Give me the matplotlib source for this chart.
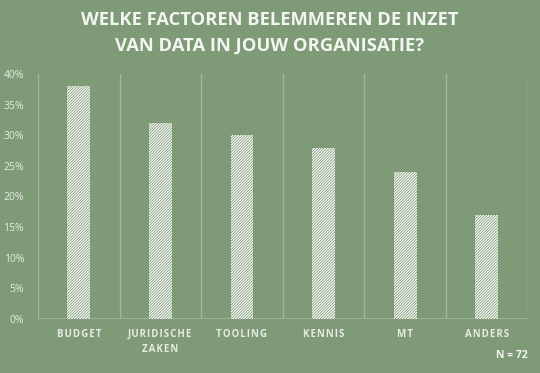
#!/usr/bin/env python
import matplotlib
matplotlib.use("Agg")
from matplotlib import pyplot as plt

# data
categories = ["BUDGET", "JURIDISCHE\nZAKEN", "TOOLING", "KENNIS", "MT", "ANDERS"]
shares = [38, 32, 30, 28, 24, 17]
yticks = [0, 5, 10, 15, 20, 25, 30, 35, 40]
title_lines = ["WELKE FACTOREN BELEMMEREN DE INZET", "VAN DATA IN JOUW ORGANISATIE?"]
note = "N = 72"

BG = "#7f9a77"
GRID = "#a2b69b"
TXT = "#f2f5f0"
LBL = "#e6ece3"


def spaced(s, sep="\u200a"):
    # fake letter spacing
    return "\n".join(sep.join(line) for line in s.split("\n"))


def main():
    plt.rcParams["hatch.linewidth"] = 0.6
    fig = plt.figure(figsize=(5.4, 3.73), dpi=100, facecolor=BG)
    ax = fig.add_axes([38 / 540, 1 - 319 / 373, 489.5 / 540, 245 / 373])
    ax.set_facecolor(BG)

    x = list(range(len(categories)))
    ax.bar(x, shares, width=0.28, color="white", edgecolor=BG,
           linewidth=0, hatch="/" * 12, zorder=3)

    ax.set_xlim(-0.5, len(categories) - 0.5)
    ax.set_ylim(0, 40)
    # vertical separators between categories
    for b in range(len(categories) + 1):
        ax.axvline(b - 0.5, color=GRID, lw=1.0, zorder=1)
    for s in ax.spines.values():
        s.set_visible(False)
    ax.axhline(0, color=GRID, lw=1.2, zorder=2)

    ax.set_yticks(yticks)
    ax.set_yticklabels([f"{v}%" for v in yticks], color=LBL,
                       fontsize=7.5, family="Open Sans")
    ax.set_xticks(x)
    ax.set_xticklabels([spaced(c) for c in categories], color=LBL,
                       fontsize=7, family="Open Sans", fontweight="bold",
                       linespacing=1.5)
    ax.tick_params(axis="both", length=0)
    ax.tick_params(axis="y", pad=10)
    ax.tick_params(axis="x", pad=7)

    fig.text(0.5, 1 - 20 / 373, title_lines[0], ha="center", va="center",
             color=TXT, fontsize=13.2, fontweight="bold", family="Open Sans")
    fig.text(0.5, 1 - 46 / 373, title_lines[1], ha="center", va="center",
             color=TXT, fontsize=13.2, fontweight="bold", family="Open Sans")
    fig.text(528 / 540, 1 - 355 / 373, note, ha="right", va="center",
             color=TXT, fontsize=7.5, fontweight="bold", family="Open Sans")

    fig.savefig("out.png", dpi=100, facecolor=BG)


if __name__ == "__main__":
    main()
